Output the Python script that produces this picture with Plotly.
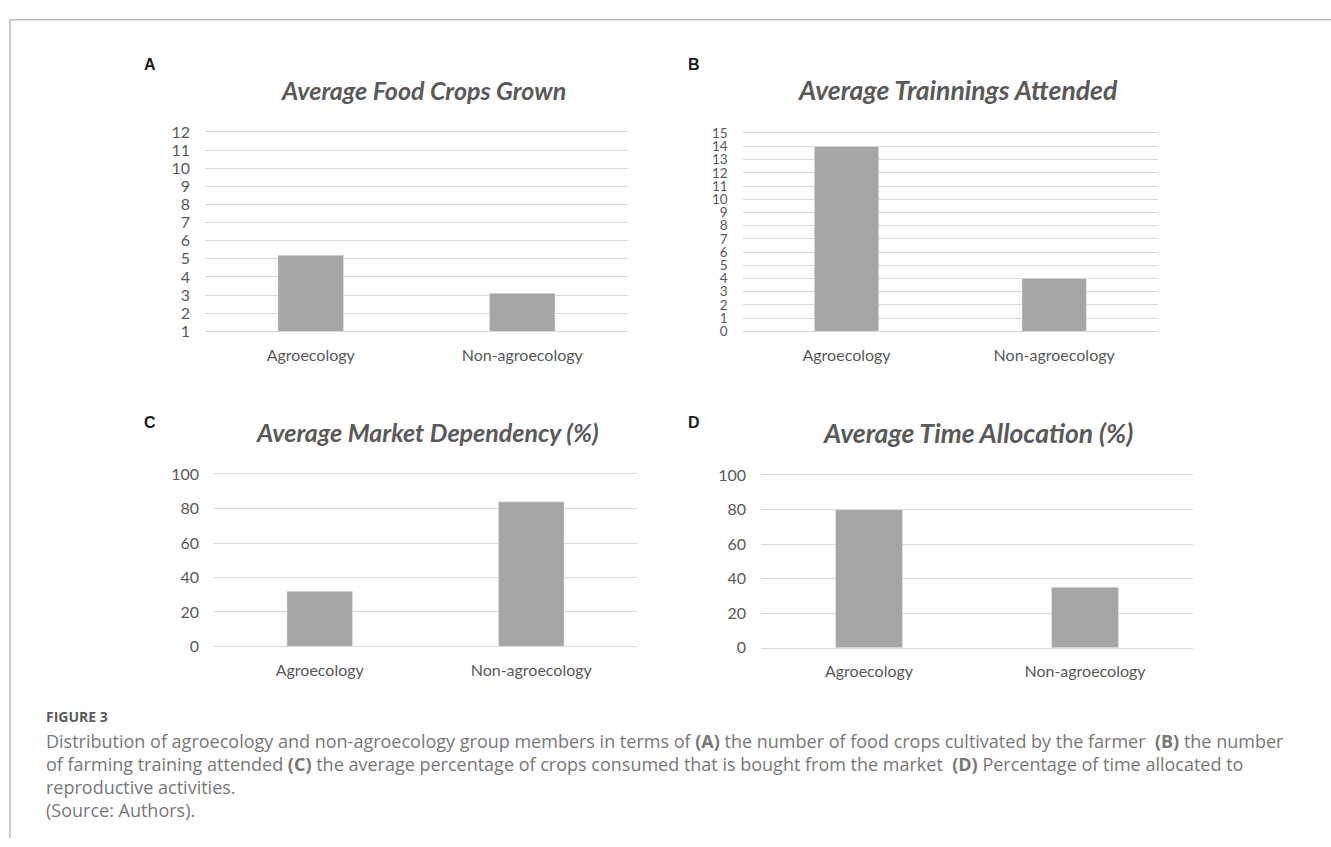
import plotly.graph_objects as go

W, H = 1331, 847

categories = ["Agroecology", "Non-agroecology"]
food_crops = [5.2, 3.1]
trainings = [14, 4]
market_dep = [32, 84]
time_alloc = [80, 35]

titles = ["Average Food Crops Grown", "Average Trainnings Attended",
          "Average Market Dependency (%)", "Average Time Allocation (%)"]
panel_letters = ["A", "B", "C", "D"]

caption_head = "FIGURE 3"
caption_lines = [
    "Distribution of agroecology and non-agroecology group members in terms of <b>(A)</b> the number of food crops cultivated by the farmer  <b>(B)</b> the number",
    "of farming training attended <b>(C)</b> the average percentage of crops consumed that is bought from the market  <b>(D)</b> Percentage of time allocated to",
    "reproductive activities.",
    "(Source: Authors).",
]


def px(x):
    return x / W


def py(y):
    return 1 - y / H


BAR = "#a5a5a5"
GRID = "#d9d9d9"
TXT = "#595959"
FONT = "Lato"

panels = [
    dict(vals=food_crops, xd=(205, 628), yd=(124.7, 328.7), rng=[1, 12], dtick=1,
         tick_size=16, title_xy=(423, 82), title_size=25, letter_xy=(150, 56)),
    dict(vals=trainings, xd=(742.7, 1158), yd=(126, 328.7), rng=[0, 15], dtick=1,
         tick_size=13.5, title_xy=(957, 82), title_size=26.5, letter_xy=(694, 56)),
    dict(vals=market_dep, xd=(214, 637), yd=(475, 651), rng=[0, 100], dtick=20,
         tick_size=16, title_xy=(427, 432), title_size=25, letter_xy=(150, 422)),
    dict(vals=time_alloc, xd=(761, 1193), yd=(476, 652.3), rng=[0, 100], dtick=20,
         tick_size=16, title_xy=(978, 433), title_size=26.5, letter_xy=(694, 422)),
]

fig = go.Figure()
layout = dict(
    width=W, height=H, margin=dict(l=0, r=0, t=0, b=0),
    paper_bgcolor="white", plot_bgcolor="white", showlegend=False,
    font=dict(family=FONT, color=TXT),
)
annotations = []
shapes = []

for i, p in enumerate(panels):
    n = "" if i == 0 else str(i + 1)
    fig.add_trace(go.Bar(x=categories, y=p["vals"], marker_color=BAR, width=0.31,
                         xaxis="x" + n, yaxis="y" + n, hoverinfo="skip"))
    layout["xaxis" + n] = dict(
        domain=[px(p["xd"][0]), px(p["xd"][1])], anchor="y" + n,
        showgrid=False, showline=True, mirror=True, linecolor=GRID, linewidth=1,
        ticks="", tickfont=dict(family=FONT, size=16, color=TXT),
        ticklabelstandoff=9, fixedrange=True,
    )
    layout["yaxis" + n] = dict(
        domain=[py(p["yd"][1]), py(p["yd"][0])], anchor="x" + n,
        range=p["rng"], dtick=p["dtick"], tick0=0,
        showgrid=True, gridcolor=GRID, gridwidth=1, zeroline=False,
        showline=False, ticks="",
        tickfont=dict(family=FONT, size=p["tick_size"], color=TXT),
        ticklabelstandoff=14, fixedrange=True,
    )
    tx, ty = p["title_xy"]
    annotations.append(dict(
        text="<b><i>%s</i></b>" % titles[i], x=px(tx), y=py(ty),
        xref="paper", yref="paper", xanchor="center", yanchor="middle",
        showarrow=False, font=dict(family=FONT, size=p["title_size"], color=TXT)))
    lx, ly = p["letter_xy"]
    annotations.append(dict(
        text="<b>%s</b>" % panel_letters[i], x=px(lx), y=py(ly),
        xref="paper", yref="paper", xanchor="center", yanchor="middle",
        showarrow=False, font=dict(family="Liberation Sans", size=16, color="#1a1a1a")))

# caption
annotations.append(dict(
    text="<b>%s</b>" % caption_head, x=px(44), y=py(723), xref="paper", yref="paper",
    xanchor="left", yanchor="middle", showarrow=False,
    font=dict(family="Open Sans", size=14, color="#5a5a5a")))
for k, line in enumerate(caption_lines):
    annotations.append(dict(
        text=line, x=px(44), y=py(748 + k * 23.5), xref="paper", yref="paper",
        xanchor="left", yanchor="middle", showarrow=False,
        font=dict(family="Open Sans", size=18, color="#777777")))

# frame lines
shapes.append(dict(type="line", xref="paper", yref="paper",
                   x0=px(10), x1=1, y0=py(10), y1=py(10),
                   line=dict(color="#bdbdbd", width=1.5)))
shapes.append(dict(type="line", xref="paper", yref="paper",
                   x0=px(10), x1=px(10), y0=py(10), y1=0,
                   line=dict(color="#bdbdbd", width=1.5)))

layout["annotations"] = annotations
layout["shapes"] = shapes
fig.update_layout(**layout)
fig.write_html("out.html", config={"displayModeBar": False})
